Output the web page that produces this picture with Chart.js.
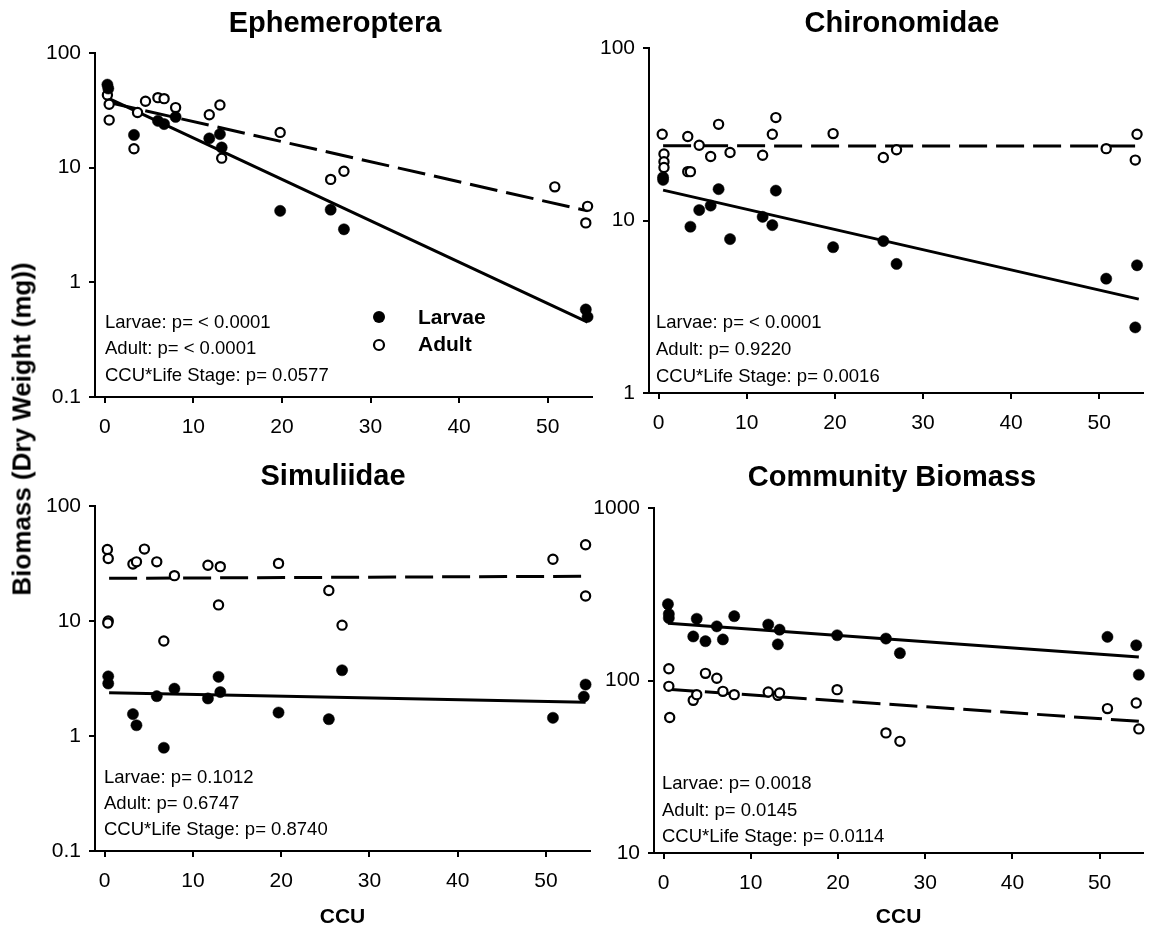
<!DOCTYPE html>
<html><head><meta charset="utf-8">
<script src="https://cdn.jsdelivr.net/npm/chart.js@4.4.0/dist/chart.umd.min.js"></script>
<style>
html,body{margin:0;padding:0;background:#fff;}
#wrap{position:relative;width:1150px;height:938px;overflow:hidden;background:#fff;}
canvas{position:absolute;}
#ytitle{position:absolute;left:22px;top:429px;transform:translate(-50%,-50%) rotate(-90deg);font:bold 26px "Liberation Sans",Arial,sans-serif;white-space:nowrap;color:#000;}
</style></head>
<body><div id="wrap">
<canvas id="c1" width="600" height="450" style="left:0;top:0"></canvas>
<canvas id="c2" width="575" height="450" style="left:575px;top:0"></canvas>
<canvas id="c3" width="600" height="488" style="left:0;top:450px"></canvas>
<canvas id="c4" width="575" height="488" style="left:575px;top:450px"></canvas>
<div id="ytitle">Biomass (Dry Weight (mg))</div>
</div>
<script>
// ---- data ----
const xTicks = [0, 10, 20, 30, 40, 50];
const fitCCU = [0.5, 54.5];

const ephLarvaeCCU = [0.3, 0.4, 3.3, 6.0, 6.7, 8.0, 11.8, 13.0, 13.2, 19.8, 25.5, 27.0, 54.3, 54.5];
const ephLarvaeBio = [53, 49, 19.3, 25.6, 24, 27.7, 18, 19.6, 15, 4.2, 4.3, 2.9, 0.58, 0.5];
const ephAdultCCU = [0.3, 0.5, 0.5, 3.3, 3.7, 4.6, 6.0, 6.7, 8.0, 11.8, 13.0, 13.2, 19.8, 25.5, 27.0, 50.8, 54.5, 54.3];
const ephAdultBio = [43, 35.7, 26, 14.6, 30.3, 38, 40.8, 40, 33.4, 28.9, 35.2, 12.1, 20.3, 7.9, 9.3, 6.8, 4.6, 3.3];
const ephLarvaeFit = [40, 0.45];
const ephAdultFit = [37, 4.2];

const chiLarvaeCCU = [0.5, 0.5, 3.6, 4.6, 5.9, 6.8, 8.1, 11.8, 12.9, 13.3, 19.8, 25.5, 27.0, 50.8, 54.3, 54.1];
const chiLarvaeBio = [17.8, 17.2, 9.2, 11.5, 12.2, 15.2, 7.8, 10.5, 9.4, 14.9, 7.0, 7.6, 5.6, 4.6, 5.5, 2.4];
const chiAdultCCU = [0.4, 0.6, 0.6, 0.6, 3.3, 3.3, 3.6, 4.6, 5.9, 6.8, 8.1, 11.8, 12.9, 13.3, 19.8, 25.5, 27.0, 50.8, 54.3, 54.1];
const chiAdultBio = [31.6, 24.3, 21.9, 20.3, 30.7, 19.2, 19.2, 27.3, 23.5, 36.1, 24.8, 23.9, 31.6, 39.5, 31.9, 23.2, 25.7, 26.1, 31.6, 22.4];
const chiLarvaeFit = [15.0, 3.5];
const chiAdultFit = [27.1, 27.0];

const simLarvaeCCU = [0.4, 0.4, 3.2, 3.6, 5.9, 6.7, 7.9, 11.7, 12.9, 13.1, 19.7, 25.4, 26.9, 50.8, 54.5, 54.3];
const simLarvaeBio = [3.3, 2.86, 1.55, 1.24, 2.22, 0.79, 2.58, 2.12, 3.27, 2.41, 1.6, 1.4, 3.73, 1.44, 2.8, 2.2];
const simAdultCCU = [0.3, 0.4, 0.4, 0.35, 3.2, 3.6, 4.5, 5.9, 6.7, 7.9, 11.7, 13.1, 12.9, 19.7, 25.4, 26.9, 50.8, 54.5, 54.5];
const simAdultBio = [41.9, 35, 10.0, 9.6, 31.3, 32.7, 42.2, 32.7, 6.7, 24.8, 30.5, 29.7, 13.8, 31.7, 18.4, 9.2, 34.4, 46, 16.5];
const simLarvaeFit = [2.38, 1.97];
const simAdultFit = [23.5, 24.5];

const comLarvaeCCU = [0.5, 0.6, 0.6, 3.8, 3.4, 4.8, 6.1, 6.8, 8.1, 12.0, 13.3, 13.1, 19.9, 25.5, 27.1, 50.9, 54.2, 54.5];
const comLarvaeBio = [277, 243, 230, 228, 180, 169, 206, 173, 236, 211, 197, 162, 183, 175, 144, 179, 160, 108];
const comAdultCCU = [0.6, 0.6, 0.7, 3.4, 3.8, 4.8, 6.1, 6.8, 8.1, 12.0, 13.1, 13.3, 19.9, 25.5, 27.1, 50.9, 54.2, 54.5];
const comAdultBio = [117, 92.5, 61, 76.7, 82.8, 110, 103, 86.5, 82.8, 85.8, 82, 84.7, 88.5, 49.7, 44.4, 68.7, 74.1, 52.4];
const comLarvaeFit = [215, 137];
const comAdultFit = [89, 58];

// ---- helpers ----
const FONT = '"Liberation Sans", Arial, sans-serif';
const zip = (xs, ys) => xs.map((x, i) => ({x: x, y: ys[i]}));

const textPlugin = {
  id: 'texts',
  afterDraw(chart, args, opts) {
    const ctx = chart.ctx;
    (opts.markers || []).forEach(m => {
      ctx.save();
      ctx.beginPath();
      ctx.arc(m.x, m.y, m.r, 0, Math.PI * 2);
      if (m.filled) { ctx.fillStyle = '#000'; ctx.fill(); }
      else { ctx.fillStyle = '#fff'; ctx.fill(); ctx.lineWidth = 2.2; ctx.strokeStyle = '#000'; ctx.stroke(); }
      ctx.restore();
    });
    (opts.items || []).forEach(it => {
      ctx.save();
      ctx.font = it.font;
      ctx.fillStyle = '#000';
      ctx.textAlign = it.align || 'left';
      ctx.textBaseline = 'middle';
      ctx.fillText(it.text, it.x, it.y);
      ctx.restore();
    });
  }
};

function makeChart(id, o) {
  const H = o.H;
  const datasets = [
    {type: 'line', data: zip(fitCCU, o.larvaeFit), borderColor: '#000', borderWidth: 3, pointRadius: 0, fill: false, order: 2, clip: false},
    {type: 'line', data: zip(fitCCU, o.adultFit), borderColor: '#000', borderWidth: 3, borderDash: [28, 9], pointRadius: 0, fill: false, order: 2, clip: false},
    {type: 'scatter', data: zip(o.adultX, o.adultY), pointRadius: 4.6, pointBorderWidth: 2.2, pointBackgroundColor: '#fff', pointBorderColor: '#000', order: 1, clip: false},
    {type: 'scatter', data: zip(o.larvaeX, o.larvaeY), pointRadius: 5.6, pointBorderWidth: 0.5, pointBackgroundColor: '#000', pointBorderColor: '#000', order: 0, clip: false}
  ];
  const yMin = o.yMin, yMax = o.yMax;
  return new Chart(document.getElementById(id), {
    data: {datasets: datasets},
    options: {
      responsive: false, animation: false, devicePixelRatio: 1,
      layout: {padding: {top: o.top, right: o.padRight, bottom: 0, left: 0}},
      plugins: {legend: {display: false}, tooltip: {enabled: false}, title: {display: false},
        texts: {items: o.items, markers: o.markers || []}},
      scales: {
        x: {
          type: 'linear', min: -1.1, max: 55,
          afterBuildTicks: s => { s.ticks = xTicks.map(v => ({value: v})); },
          afterFit: s => { s.height = H - o.bottom; },
          ticks: {font: {family: FONT, size: 21}, color: '#000', padding: 12, maxRotation: 0},
          grid: {display: true, drawOnChartArea: false, drawTicks: true, tickLength: 6, color: '#000', lineWidth: 2},
          border: {display: true, color: '#000', width: 2},
          title: {display: !!o.xTitle, text: 'CCU', font: {family: FONT, size: 21, weight: 'bold'}, color: '#000', padding: {top: 0, bottom: 8}}
        },
        y: {
          type: 'logarithmic', min: yMin, max: yMax,
          afterBuildTicks: s => { const t = []; for (let v = yMin; v <= yMax * 1.001; v *= 10) t.push({value: v}); s.ticks = t; },
          afterFit: s => { s.width = o.left; },
          ticks: {font: {family: FONT, size: 21}, color: '#000', padding: 8,
            callback: v => (v < 1 ? Number(v).toFixed(1) : String(Math.round(v)))},
          grid: {display: true, drawOnChartArea: false, drawTicks: true, tickLength: 6, color: '#000', lineWidth: 2},
          border: {display: true, color: '#000', width: 2}
        }
      }
    },
    plugins: [textPlugin]
  });
}

const tFont = 'bold 29px ' + FONT;
const aFont = '18.5px ' + FONT;
const lFont = 'bold 21px ' + FONT;

makeChart('c1', {H: 450, top: 53, bottom: 397, left: 95, padRight: 8, yMin: 0.1, yMax: 100,
  larvaeX: ephLarvaeCCU, larvaeY: ephLarvaeBio, adultX: ephAdultCCU, adultY: ephAdultBio,
  larvaeFit: ephLarvaeFit, adultFit: ephAdultFit,
  items: [
    {text: 'Ephemeroptera', x: 335, y: 24, font: tFont, align: 'center'},
    {text: 'Larvae: p= < 0.0001', x: 105, y: 323, font: aFont},
    {text: 'Adult: p= < 0.0001', x: 105, y: 349, font: aFont},
    {text: 'CCU*Life Stage: p= 0.0577', x: 105, y: 376, font: aFont},
    {text: 'Larvae', x: 418, y: 318, font: lFont},
    {text: 'Adult', x: 418, y: 345, font: lFont}
  ],
  markers: [{x: 379, y: 317, r: 6, filled: true}, {x: 379, y: 345, r: 5, filled: false}]
});

makeChart('c2', {H: 450, top: 48, bottom: 393, left: 74, padRight: 5, yMin: 1, yMax: 100,
  larvaeX: chiLarvaeCCU, larvaeY: chiLarvaeBio, adultX: chiAdultCCU, adultY: chiAdultBio,
  larvaeFit: chiLarvaeFit, adultFit: chiAdultFit,
  items: [
    {text: 'Chironomidae', x: 327, y: 24, font: tFont, align: 'center'},
    {text: 'Larvae: p= < 0.0001', x: 81, y: 323, font: aFont},
    {text: 'Adult: p= 0.9220', x: 81, y: 350, font: aFont},
    {text: 'CCU*Life Stage: p= 0.0016', x: 81, y: 377, font: aFont}
  ]
});

makeChart('c3', {H: 488, top: 56, bottom: 401, left: 95, padRight: 10, yMin: 0.1, yMax: 100, xTitle: true,
  larvaeX: simLarvaeCCU, larvaeY: simLarvaeBio, adultX: simAdultCCU, adultY: simAdultBio,
  larvaeFit: simLarvaeFit, adultFit: simAdultFit,
  items: [
    {text: 'Simuliidae', x: 333, y: 27, font: tFont, align: 'center'},
    {text: 'Larvae: p= 0.1012', x: 104, y: 328, font: aFont},
    {text: 'Adult: p= 0.6747', x: 104, y: 354, font: aFont},
    {text: 'CCU*Life Stage: p= 0.8740', x: 104, y: 380, font: aFont}
  ]
});

makeChart('c4', {H: 488, top: 58, bottom: 403, left: 79, padRight: 1, yMin: 10, yMax: 1000, xTitle: true,
  larvaeX: comLarvaeCCU, larvaeY: comLarvaeBio, adultX: comAdultCCU, adultY: comAdultBio,
  larvaeFit: comLarvaeFit, adultFit: comAdultFit,
  items: [
    {text: 'Community Biomass', x: 317, y: 28, font: tFont, align: 'center'},
    {text: 'Larvae: p= 0.0018', x: 87, y: 334, font: aFont},
    {text: 'Adult: p= 0.0145', x: 87, y: 361, font: aFont},
    {text: 'CCU*Life Stage: p= 0.0114', x: 87, y: 387, font: aFont}
  ]
});
</script>
</body></html>
